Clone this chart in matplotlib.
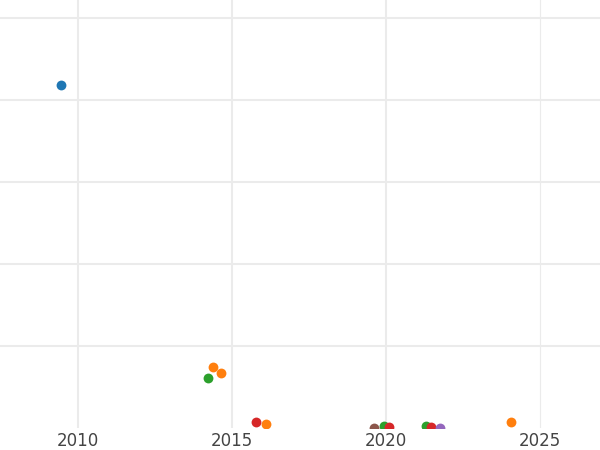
import matplotlib
matplotlib.use("Agg")
import matplotlib.pyplot as plt

series_names = ["A", "B", "C", "D", "E", "F"]
series_colors = ["#1f77b4", "#ff7f0e", "#2ca02c", "#d62728", "#9467bd", "#8c564b"]
x_A = [2009.45]
y_A = [4.18]
x_B = [2014.38, 2014.64, 2016.1, 2024.06]
y_B = [0.74, 0.67, 0.05, 0.07]
x_C = [2014.22, 2019.94, 2021.3]
y_C = [0.61, 0.02, 0.03]
x_D = [2015.78, 2020.1, 2021.46]
y_D = [0.07, 0.01, 0.01]
x_E = [2021.75]
y_E = [0.0]
x_F = [2019.61]
y_F = [0.0]
xs = [x_A, x_B, x_C, x_D, x_E, x_F]
ys = [y_A, y_B, y_C, y_D, y_E, y_F]
x_ticks = [2010, 2015, 2020, 2025]

fig = plt.figure(figsize=(6, 4.5), dpi=100)
ax = fig.add_axes([0, 22/450, 1, 428/450])
for name, c, x, y in zip(series_names, series_colors, xs, ys):
    ax.scatter(x, y, s=50, color=c, zorder=3, linewidths=0)
ax.set_xlim(2007.47, 2026.95)
ax.set_ylim(0, 428/82)
ax.set_xticks(x_ticks)
ax.set_xticklabels([str(t) for t in x_ticks])
ax.set_yticks([1, 2, 3, 4, 5])
ax.set_yticklabels([])
ax.grid(True, color="#ebebeb", linewidth=1.5)
ax.set_axisbelow(True)
xgl = ax.get_xgridlines()
xgl[-1].set_linewidth(0.8)
for s in ax.spines.values():
    s.set_visible(False)
ax.tick_params(axis="both", length=0, labelsize=12, labelcolor="#444444", pad=3)
fig.savefig("out.png", dpi=100)
